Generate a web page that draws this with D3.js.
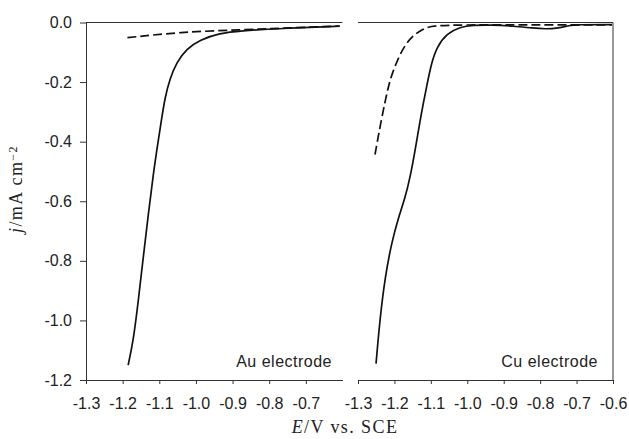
<!DOCTYPE html>
<html>
<head>
<meta charset="utf-8">
<script src="https://d3js.org/d3.v7.min.js"></script>
<style>
  body { margin: 0; background: #fff; }
  .tick text { font-family: "Liberation Sans", Arial, sans-serif; font-size: 16px; fill: #222; }
  .tick line, .domain { stroke: #333; }
  .panelLabel { font-family: "Liberation Sans", Arial, sans-serif; font-size: 16px; fill: #222; letter-spacing: 0.5px; }
  .axisTitle { font-family: "Liberation Serif", "Times New Roman", serif; font-size: 18px; fill: #222; letter-spacing: 1.4px; }
</style>
</head>
<body>
<div id="chart"></div>
<script>
var svgWidth = 629;
var svgHeight = 439;

// tick values
var xTicksAu = [-1.3, -1.2, -1.1, -1.0, -0.9, -0.8, -0.7];
var xTicksCu = [-1.3, -1.2, -1.1, -1.0, -0.9, -0.8, -0.7, -0.6];
var yTicks = [0.0, -0.2, -0.4, -0.6, -0.8, -1.0, -1.2];

// Au electrode, solid curve
var auSolidE = [-1.185, -1.171, -1.1575, -1.144, -1.130, -1.1166, -1.103, -1.0943, -1.0847, -1.0711, -1.0529, -1.0256, -0.9894, -0.9349, -0.8804, -0.7714, -0.608];
var auSolidJ = [-1.150, -1.070, -0.937, -0.791, -0.645, -0.510, -0.398, -0.329, -0.253, -0.189, -0.134, -0.0886, -0.058, -0.036, -0.028, -0.020, -0.0125];
// Au electrode, dashed curve
var auDashE = [-1.187, -1.044, -0.88, -0.744, -0.608];
var auDashJ = [-0.051, -0.032, -0.025, -0.018, -0.012];

// Cu electrode, solid curve
var cuSolidE = [-1.2505, -1.2396, -1.2258, -1.2075, -1.1893, -1.1709, -1.1571, -1.1434, -1.1297, -1.1205, -1.110, -1.098, -1.0835, -1.0563, -1.0198, -0.984, -0.937, -0.873, -0.82, -0.785, -0.75, -0.72, -0.70, -0.603];
var cuSolidJ = [-1.145, -0.993, -0.855, -0.738, -0.656, -0.589, -0.521, -0.431, -0.330, -0.270, -0.205, -0.135, -0.082, -0.037, -0.015, -0.009, -0.008, -0.012, -0.019, -0.022, -0.019, -0.010, -0.007, -0.007];
// Cu electrode, dashed curve
var cuDashE = [-1.2533, -1.235, -1.2168, -1.2075, -1.1846, -1.1571, -1.1205, -1.0931, -1.0, -0.9, -0.75, -0.603];
var cuDashJ = [-0.443, -0.319, -0.215, -0.175, -0.104, -0.050, -0.020, -0.010, -0.008, -0.008, -0.008, -0.008];

function zip(xs, ys) {
  return xs.map(function(x, i) { return { e: x, j: ys[i] }; });
}

var svg = d3.select("#chart")
  .append("svg")
  .attr("width", svgWidth)
  .attr("height", svgHeight);

var yScale = d3.scaleLinear()
  .domain([0, -1.2])
  .range([22.5, 380]);

var xAu = d3.scaleLinear().domain([-1.3, -0.6]).range([86, 342.5]);
var xCu = d3.scaleLinear().domain([-1.3, -0.6]).range([358, 613]);

var fmt = function(d) { return d.toFixed(1); };

// left axis
svg.append("g")
  .attr("transform", "translate(86,0)")
  .call(d3.axisLeft(yScale).tickValues(yTicks).tickFormat(fmt).tickSize(6).tickSizeOuter(0).tickPadding(8));

// bottom axes
svg.append("g")
  .attr("transform", "translate(0,380)")
  .call(d3.axisBottom(xAu).tickValues(xTicksAu).tickFormat(fmt).tickSize(4).tickSizeOuter(0).tickPadding(14));

svg.append("g")
  .attr("transform", "translate(0,380)")
  .call(d3.axisBottom(xCu).tickValues(xTicksCu).tickFormat(fmt).tickSize(4).tickSizeOuter(0).tickPadding(14));

// frame lines
svg.append("line")
  .attr("x1", xAu(-1.3)).attr("x2", xAu(-0.6))
  .attr("y1", yScale(0)).attr("y2", yScale(0))
  .attr("stroke", "#333");
svg.append("line")
  .attr("x1", xCu(-1.3)).attr("x2", xCu(-0.6))
  .attr("y1", yScale(0)).attr("y2", yScale(0))
  .attr("stroke", "#333");
svg.append("line")
  .attr("x1", xCu(-0.6)).attr("x2", xCu(-0.6))
  .attr("y1", yScale(0)).attr("y2", yScale(-1.2))
  .attr("stroke", "#333");

// curves
function drawCurve(xScale, data, dashed) {
  var line = d3.line()
    .x(d => xScale(d.e))
    .y(d => yScale(d.j))
    .curve(d3.curveBasis);
  svg.append("path")
    .datum(data)
    .attr("d", line)
    .attr("fill", "none")
    .attr("stroke", "#111")
    .attr("stroke-width", 1.7)
    .attr("stroke-dasharray", dashed ? "9,4" : null);
}

drawCurve(xAu, zip(auSolidE, auSolidJ), false);
drawCurve(xAu, zip(auDashE, auDashJ), true);
drawCurve(xCu, zip(cuSolidE, cuSolidJ), false);
drawCurve(xCu, zip(cuDashE, cuDashJ), true);

// panel labels
svg.append("text")
  .attr("class", "panelLabel")
  .attr("x", 332).attr("y", 367)
  .attr("text-anchor", "end")
  .text("Au electrode");
svg.append("text")
  .attr("class", "panelLabel")
  .attr("x", 598).attr("y", 367)
  .attr("text-anchor", "end")
  .text("Cu electrode");

// axis titles
var xTitle = svg.append("text")
  .attr("class", "axisTitle")
  .attr("x", 345).attr("y", 433)
  .attr("text-anchor", "middle");
xTitle.append("tspan").style("font-style", "italic").text("E");
xTitle.append("tspan").text("/V vs. SCE");

var yTitle = svg.append("text")
  .attr("class", "axisTitle")
  .attr("transform", "translate(22,189) rotate(-90)")
  .attr("text-anchor", "middle");
yTitle.append("tspan").style("font-style", "italic").text("j");
yTitle.append("tspan").text("/mA cm");
yTitle.append("tspan").attr("dy", "-0.45em").style("font-size", "12px").text("\u22122");
</script>
</body>
</html>
